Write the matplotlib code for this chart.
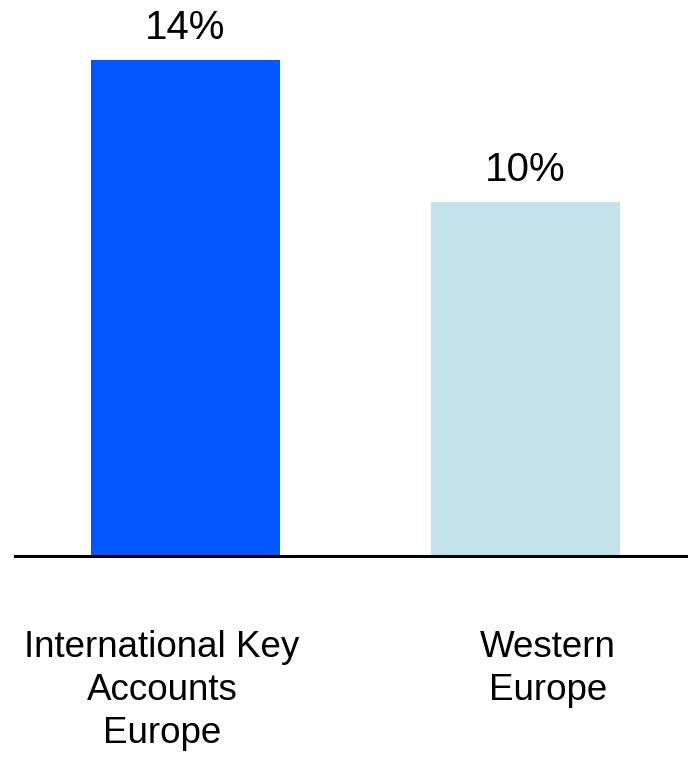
import matplotlib
matplotlib.use("Agg")
from matplotlib import pyplot as plt

plt.rcParams['font.family'] = ['Liberation Sans', 'DejaVu Sans']

categories = ["International Key\nAccounts\nEurope", "Western\nEurope"]
values = [14, 10]
value_labels = ["14%", "10%"]
colors = ["#0057FF", "#C2E3EB"]

fig = plt.figure(figsize=(6.88, 7.57), dpi=100)
ax = fig.add_axes([15/688, 1 - 556/757, 1 - 15/688, 556/757])

x = [0, 1]
ax.bar(x, values, width=0.555, color=colors)
ax.set_xlim(-0.501, 1.478)
ax.set_ylim(0, 14 * 556 / 496)

for xi, v, lab in zip(x, values, value_labels):
    ax.annotate(lab, (xi, v), xytext=(0, 15), textcoords="offset points",
                ha="center", va="baseline", fontsize=29)

# category labels sit a bit left of the bar centres in the original
label_x = [162, 548]
for lx, cat in zip(label_x, categories):
    fig.text(lx / 688, 1 - 630 / 757, cat, ha="center", va="top",
             fontsize=26.5, multialignment="center", linespacing=1.3)

for s in ["top", "right", "left"]:
    ax.spines[s].set_visible(False)
ax.spines["bottom"].set_linewidth(2.2)
ax.set_xticks([])
ax.set_yticks([])

fig.savefig("out.png", dpi=100)
